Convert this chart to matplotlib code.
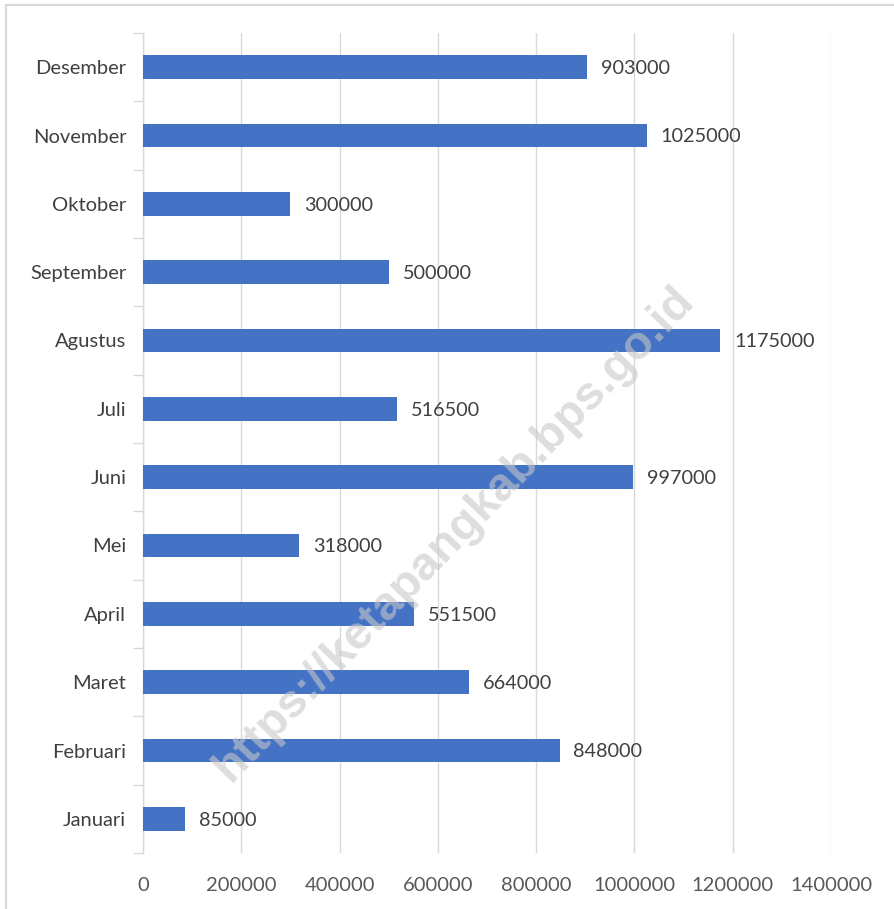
import matplotlib
matplotlib.use("Agg")
import matplotlib.pyplot as plt
from matplotlib.lines import Line2D
import numpy as np

months = ["Januari", "Februari", "Maret", "April", "Mei", "Juni", "Juli",
          "Agustus", "September", "Oktober", "November", "Desember"]
values = [85000, 848000, 664000, 551500, 318000, 997000, 516500,
          1175000, 500000, 300000, 1025000, 903000]
xticks = [0, 200000, 400000, 600000, 800000, 1000000, 1200000, 1400000]

plt.rcParams['font.family'] = ['Lato', 'DejaVu Sans']

fig = plt.figure(figsize=(8.95, 9.09), dpi=100)
ax = fig.add_axes([143/895, 1-853/909, (831-143)/895, (853-33)/909])

y = np.arange(len(months))
ax.barh(y, values, height=0.35, color='#4472C4', zorder=3)
for yi, v in zip(y, values):
    ax.text(v + 28000, yi - 0.02, str(v), va='center', ha='left', fontsize=14.3,
            color='#404040', zorder=4)

ax.set_xlim(0, 1400000)
ax.set_ylim(-0.5, len(months) - 0.5)
ax.set_xticks(xticks)
ax.set_xticklabels([str(t) for t in xticks], fontsize=14.5, color='#595959')
ax.set_yticks(y)
ax.set_yticklabels(months, fontsize=14.5, color='#404040')
ax.set_yticks(np.arange(len(months) + 1) - 0.5, minor=True)
ax.tick_params(axis='y', which='major', length=0, pad=21 - 9)
ax.tick_params(axis='y', which='minor', length=7, color='#D9D9D9', width=1)
ax.tick_params(axis='x', length=0, pad=17)
ax.grid(axis='x', color='#D9D9D9', linewidth=1, zorder=0)
for s in ['top', 'right', 'bottom']:
    ax.spines[s].set_visible(False)
ax.spines['left'].set_color('#D9D9D9')
ax.spines['left'].set_linewidth(1)

# watermark
fig.text(0.508, 0.413, "https://ketapangkab.bps.go.id", rotation=46,
         fontsize=34, fontweight='bold', family='Liberation Sans',
         color='#C8C8C8', alpha=0.6, ha='center', va='center', zorder=10)

# outer border (top and left visible)
fig.add_artist(Line2D([6/895, 1], [1-5/909, 1-5/909], color='#D9D9D9', linewidth=1.5))
fig.add_artist(Line2D([6/895, 6/895], [0, 1-5/909], color='#D9D9D9', linewidth=1.5))

fig.savefig("out.png", dpi=100, facecolor='white')
